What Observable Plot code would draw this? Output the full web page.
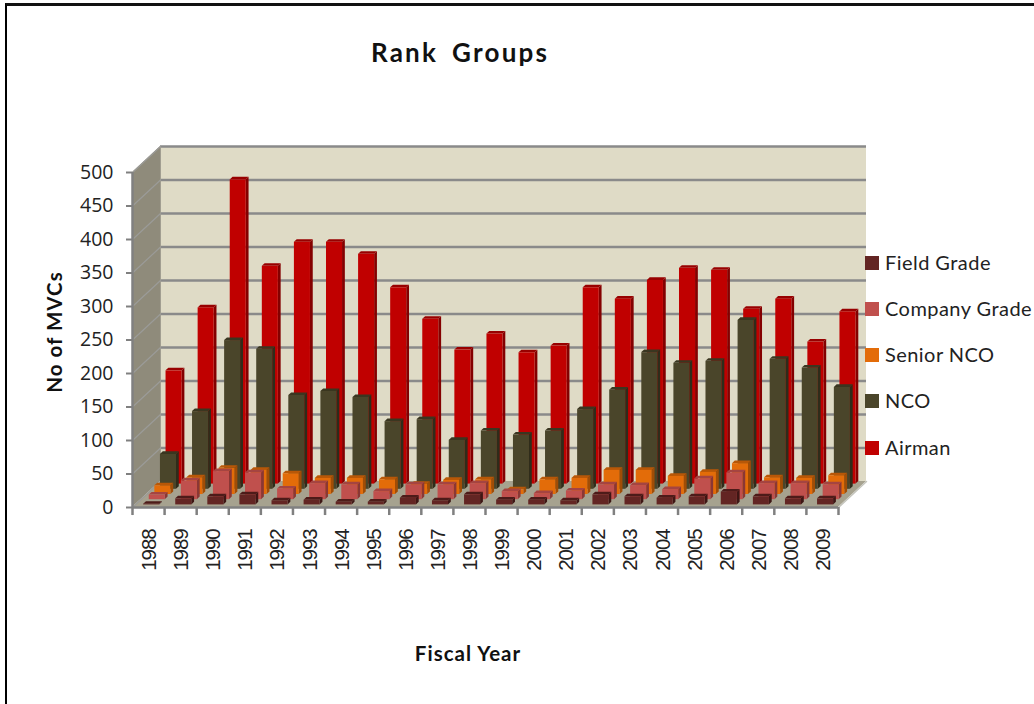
<!DOCTYPE html>
<html>
<head>
<meta charset="utf-8">
<script src="https://cdn.jsdelivr.net/npm/d3@7"></script>
<script src="https://cdn.jsdelivr.net/npm/@observablehq/plot@0.6"></script>
<style>
html,body{margin:0;padding:0;background:#fff;overflow:hidden}
#page{position:relative;width:1034px;height:704px;overflow:hidden}
#frame{position:absolute;left:5px;top:3px;width:1040px;height:720px;border-left:2.5px solid #000;border-top:3px solid #111;box-sizing:border-box}
.t{position:absolute;white-space:pre;color:#111;font-family:Lato,"Open Sans",sans-serif}
#title{left:371px;top:36px;font-size:26px;font-weight:700;letter-spacing:2.2px;word-spacing:-1.5px}
#ylab{left:54px;top:332px;font-size:20.5px;font-weight:700;letter-spacing:1px;transform:translate(-50%,-50%) rotate(-90deg)}
#xlab{left:468px;top:653px;font-size:20.5px;font-weight:700;letter-spacing:1px;transform:translate(-50%,-50%)}
.sw{position:absolute;left:865px;width:14px;height:14px}
.lg{left:885px;font-size:20px;letter-spacing:.45px;color:#222;transform:translateY(-50%)}
svg{position:absolute;left:0;top:0}
.yrs text{letter-spacing:-1.1px}
</style>
</head>
<body>
<div id="page"><div id="frame"></div><div id="chart"></div></div>
<script>
const years = [1988,1989,1990,1991,1992,1993,1994,1995,1996,1997,1998,1999,2000,2001,2002,2003,2004,2005,2006,2007,2008,2009];
const fieldGrade   = [1,9,12,15,6,7,4,4,10,6,15,7,7,6,15,12,10,12,19,12,9,9];
const companyGrade = [7,28,42,40,16,24,22,12,22,22,24,12,9,13,22,21,15,31,40,24,24,22];
const seniorNCO    = [13,25,39,36,31,24,24,22,15,21,22,7,22,24,36,36,27,33,46,25,24,28];
const nco          = [52,116,222,209,140,146,137,101,104,73,87,81,87,119,148,204,188,191,252,194,181,152];
const airman       = [169,263,454,325,361,361,343,293,246,200,224,196,206,293,276,304,322,319,261,276,212,257];
const valueTicks   = [0,50,100,150,200,250,300,350,400,450,500];

const seriesNames  = ["Field Grade","Company Grade","Senior NCO","NCO","Airman"];
const seriesValues = [fieldGrade,companyGrade,seniorNCO,nco,airman];
const frontColors  = ["#632523","#c0504d","#e36c09","#4a452a","#c00000"];
const sideColors   = ["#3e1614","#8a3735","#a14d06","#2f2c1a","#840000"];
const topColors    = ["#4d1b19","#a54441","#b85707","#3a3620","#980000"];

// Oblique projection of the chart's depth axis onto the year and value axes.
const rowDepthX = 0.1745, rowDepthY = 7.76, rows = 5;
const px = (x, depth) => x + depth * rowDepthX;
const py = (v, depth) => v + depth * rowDepthY;
const first = years[0], last = years[years.length - 1] + 1;
const barLeft = 0.26, barWidth = 0.5;

const sw = (a, b) => [{k:0,...a},{k:0,...b}];
const marks = [];

// walls and floor
marks.push(Plot.area(sw(
  {x1:px(first,0),x2:px(first,0),y1:py(0,0),y2:py(500,0)},
  {x1:px(first,rows),x2:px(first,rows),y1:py(0,rows),y2:py(500,rows)}),
  {x1:"x1",x2:"x2",y1:"y1",y2:"y2",fill:"#8f8b7b"}));
marks.push(Plot.area(sw(
  {x1:px(first,rows),x2:px(last,rows),y1:py(0,rows),y2:py(0,rows)},
  {x1:px(first,rows),x2:px(last,rows),y1:py(500,rows),y2:py(500,rows)}),
  {x1:"x1",x2:"x2",y1:"y1",y2:"y2",fill:"#dfdbc6"}));
marks.push(Plot.area(sw(
  {x1:px(first,0),x2:px(last,0),y1:py(0,0),y2:py(0,0)},
  {x1:px(first,rows),x2:px(last,rows),y1:py(0,rows),y2:py(0,rows)}),
  {x1:"x1",x2:"x2",y1:"y1",y2:"y2",fill:"#a6a28f"}));

// gridlines: along the back wall and across the side wall
marks.push(Plot.ruleY(valueTicks.filter(v => v > 0),{
  y:v => py(v,rows), x1:px(first,rows), x2:px(last,rows), stroke:"#8a8a8a", strokeWidth:2.5}));
marks.push(Plot.ruleX([px(first,rows)],{y1:py(0,rows),y2:py(500,rows),stroke:"#a09d90",strokeWidth:1}));
const diagonals = valueTicks.flatMap(v => [{v,d:0},{v,d:rows}]);
marks.push(Plot.line(diagonals,{x:d => px(first,d.d), y:d => py(d.v,d.d), z:"v", stroke:"#9b9b98", strokeWidth:1.2}));
marks.push(Plot.line([{d:0},{d:rows}],{x:d => px(last,d.d), y:d => py(0,d.d), stroke:"#c4c4bc", strokeWidth:1.5}));

// bars, back row first
for (let r = rows - 1; r >= 0; --r) {
  const front = r + 0.5, back = r + 1;
  const table = years.map((y,i) => ({year:y, value:seriesValues[r][i]}));
  const ends = table.flatMap(d => [{...d,d:front},{...d,d:back}]);
  marks.push(Plot.area(ends,{
    x1:d => px(d.year + barLeft + barWidth, d.d), x2:d => px(d.year + barLeft + barWidth, d.d),
    y1:d => py(0,d.d), y2:d => py(d.value,d.d), z:"year", fill:sideColors[r]}));
  marks.push(Plot.area(ends,{
    x1:d => px(d.year + barLeft, d.d), x2:d => px(d.year + barLeft + barWidth, d.d),
    y1:d => py(d.value,d.d), y2:d => py(d.value,d.d), z:"year", fill:topColors[r]}));
  marks.push(Plot.rect(table,{
    x1:d => px(d.year + barLeft, front), x2:d => px(d.year + barLeft + barWidth, front),
    y1:py(0,front), y2:d => py(d.value,front), fill:frontColors[r]}));
}

// axes
const axisFront = {stroke:"#808080", strokeWidth:2.5};
const edges = [...years, last];
marks.push(Plot.ruleX(edges,{y1:0,y2:-12,...axisFront}));
marks.push(Plot.ruleY([0],{...axisFront}));
marks.push(Plot.ruleX([first],{y1:0,y2:500,...axisFront}));
marks.push(Plot.axisY({ticks:valueTicks, tickSize:6, tickPadding:13, label:null, fontSize:19.5,
  fontFamily:"Open Sans", stroke:"#808080", strokeWidth:2, fill:"#222", color:"#222"}));
marks.push(Plot.axisX({ticks:years.map(y => y + 0.5), tickSize:0, tickPadding:22, tickRotate:-90, dx:1,
  tickFormat:d => String(d - 0.5), label:null, fontSize:20.5, fontFamily:"Liberation Sans", fill:"#222", className:"yrs"}));

const chart = Plot.plot({
  width:1034, height:704,
  marginLeft:132, marginRight:196, marginTop:172, marginBottom:197,
  style:{background:"transparent", overflow:"visible"},
  x:{type:"linear", domain:[first,last]},
  y:{type:"linear", domain:[0,500]},
  marks
});
const page = document.getElementById("page");
document.getElementById("chart").append(chart);

function addText(id, text){const e=document.createElement("div");e.className="t";e.id=id;e.textContent=text;page.append(e);}
addText("title","Rank  Groups");
addText("ylab","No of MVCs");
addText("xlab","Fiscal Year");
const legendY = [262,308,354,400,447];
seriesNames.forEach((name,i) => {
  const s=document.createElement("div");s.className="sw";s.style.top=(legendY[i]-6)+"px";s.style.background=frontColors[i];page.append(s);
  const t=document.createElement("div");t.className="t lg";t.style.top=legendY[i]+"px";t.textContent=name;page.append(t);
});
</script>
</body>
</html>
